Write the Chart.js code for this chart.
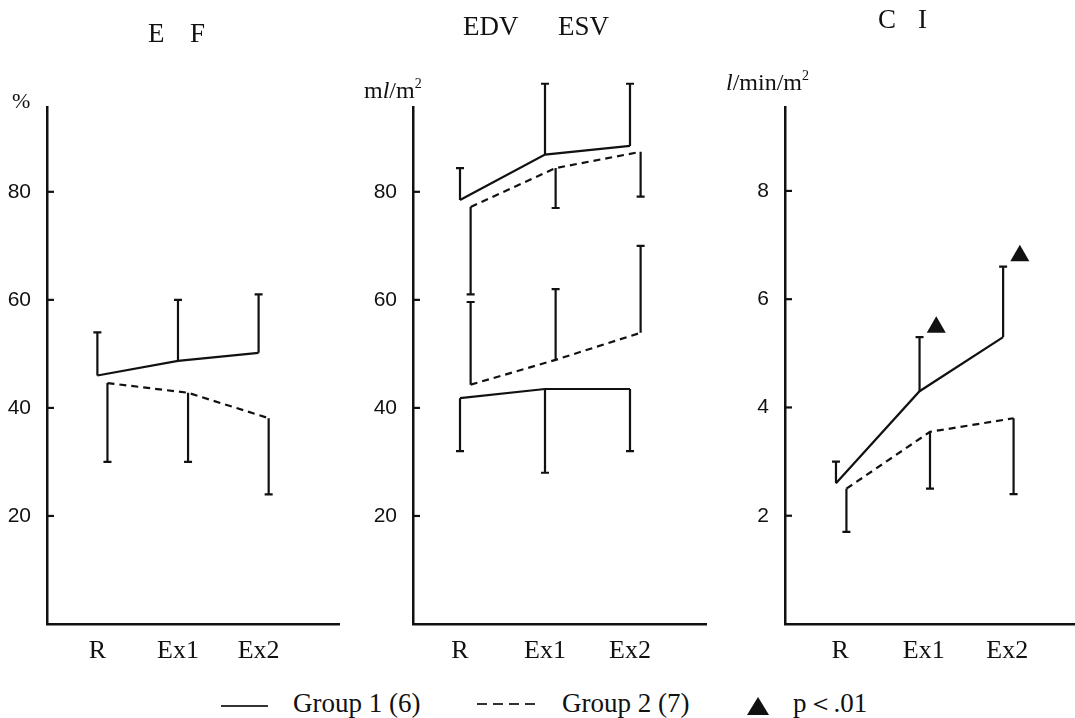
<!DOCTYPE html>
<html>
<head>
<meta charset="utf-8">
<script src="https://cdn.jsdelivr.net/npm/chart.js@4.4.1/dist/chart.umd.min.js"></script>
<style>
  html, body { margin:0; padding:0; background:#fff; overflow:hidden; }
  body { width:1075px; height:718px; position:relative; font-family:"Liberation Serif", serif; color:#111; }
  canvas { position:absolute; top:0; }
  .txt { position:absolute; white-space:pre; line-height:1; font-family:"Liberation Serif", serif; }
  .title { font-size:27px; }
  .unit { font-size:24px; }
  .leg { font-size:27px; }
  .seg { position:absolute; }
</style>
</head>
<body>
<canvas id="c1" width="340" height="680" style="left:0px;width:340px;height:680px;"></canvas>
<canvas id="c2" width="352" height="680" style="left:355px;width:352px;height:680px;"></canvas>
<canvas id="c3" width="345" height="680" style="left:730px;width:345px;height:680px;"></canvas>

<div class="txt title" style="left:148px;top:20px;">E</div>
<div class="txt title" style="left:190px;top:20px;">F</div>
<div class="txt title" style="left:463px;top:13px;">EDV</div>
<div class="txt title" style="left:558px;top:13px;">ESV</div>
<div class="txt title" style="left:878px;top:6px;">C</div>
<div class="txt title" style="left:918px;top:6px;">I</div>

<div class="txt unit" style="left:12px;top:90px;font-size:22px;">%</div>
<div class="txt unit" style="left:364px;top:78px;">m<i>l</i>/m<span style="font-size:14px;position:relative;top:-10px;">2</span></div>
<div class="txt unit" style="left:726px;top:70px;"><i>l</i>/min/m<span style="font-size:14px;position:relative;top:-10px;">2</span></div>

<div class="seg" style="left:221px;top:705px;width:47px;height:2px;background:#333;"></div>
<div class="txt leg" style="left:293px;top:690px;">Group 1 (6)</div>
<div class="seg" style="left:477px;top:703px;width:60px;height:2px;background:repeating-linear-gradient(to right,#333 0,#333 10px,transparent 10px,transparent 16px);"></div>
<div class="txt leg" style="left:562px;top:690px;">Group 2 (7)</div>
<div style="position:absolute;left:747px;top:697px;width:0;height:0;border-left:11.5px solid transparent;border-right:11.5px solid transparent;border-bottom:18px solid #111;"></div>
<div class="txt leg" style="left:793px;top:690px;">p＜.01</div>

<script>
// ---- data ----
const categories = ['R', 'Ex1', 'Ex2'];

const efTicks = [20, 40, 60, 80];
const efGroup1 = [46, 48.7, 50.2];
const efGroup1Err = [54, 60, 61];
const efGroup2 = [44.6, 42.8, 38.1];
const efGroup2Err = [30, 30, 24];

const volTicks = [20, 40, 60, 80];
const edvGroup1 = [78.5, 86.9, 88.5];
const edvGroup1Err = [84.4, 100, 100];
const edvGroup2 = [77.2, 84.4, 87.4];
const edvGroup2Err = [61, 77, 79.1];
const esvGroup1 = [41.8, 43.5, 43.5];
const esvGroup1Err = [32, 28, 32];
const esvGroup2 = [44.3, 48.9, 53.9];
const esvGroup2Err = [59.6, 62, 70];

const ciTicks = [2, 4, 6, 8];
const ciGroup1 = [2.6, 4.3, 5.3];
const ciGroup1Err = [3.0, 5.3, 6.6];
const ciGroup2 = [2.5, 3.55, 3.8];
const ciGroup2Err = [1.7, 2.5, 2.4];
const ciSignificant = [null, 5.48, 6.8];

// ---- helpers ----
const G2_SHIFT = 0.125;
function pts(values, shift) {
  return values.map((v, i) => ({ x: i + 1 + shift, y: v }));
}
function lineDs(values, errs, dashed, shift) {
  return {
    type: 'line',
    data: pts(values, shift),
    errEnd: errs,
    borderColor: '#111',
    borderWidth: 2.2,
    borderDash: dashed ? [7, 5] : [],
    pointRadius: 0,
    tension: 0,
    fill: false
  };
}

const errorBars = {
  id: 'errorBars',
  afterDatasetsDraw(chart) {
    const ctx = chart.ctx;
    const ys = chart.scales.y;
    chart.data.datasets.forEach((ds, di) => {
      if (!ds.errEnd) return;
      const meta = chart.getDatasetMeta(di);
      meta.data.forEach((el, i) => {
        const e = ds.errEnd[i];
        if (e == null) return;
        const x = el.x, y0 = el.y, y1 = ys.getPixelForValue(e);
        ctx.save();
        ctx.strokeStyle = '#111';
        ctx.lineWidth = 2.2;
        ctx.setLineDash([]);
        ctx.beginPath();
        ctx.moveTo(x, y0); ctx.lineTo(x, y1);
        ctx.moveTo(x - 4, y1); ctx.lineTo(x + 4, y1);
        ctx.stroke();
        ctx.restore();
      });
    });
  }
};

const inwardTicks = {
  id: 'inwardTicks',
  afterDraw(chart) {
    const ctx = chart.ctx;
    const ys = chart.scales.y;
    const left = chart.chartArea.left;
    ctx.save();
    ctx.strokeStyle = '#111';
    ctx.lineWidth = 2.2;
    ys.ticks.forEach(t => {
      const y = ys.getPixelForValue(t.value);
      ctx.beginPath();
      ctx.moveTo(left, y); ctx.lineTo(left + 7, y);
      ctx.stroke();
    });
    ctx.restore();
  }
};

function makeChart(id, datasets, yMax, yTicks, xMin, xMax, yAxisWidth, labelShift) {
  return new Chart(document.getElementById(id), {
    data: { datasets },
    options: {
      responsive: false,
      animation: false,
      devicePixelRatio: 1,
      layout: { autoPadding: false, padding: { top: 107, left: 0, right: 0, bottom: 0 } },
      plugins: { legend: { display: false }, tooltip: { enabled: false } },
      scales: {
        x: {
          type: 'linear',
          min: xMin, max: xMax,
          grid: { display: false },
          border: { display: true, color: '#111', width: 2.5 },
          afterBuildTicks: s => { s.ticks = categories.map((c, i) => ({ value: i + 1 + labelShift })); },
          afterFit: s => { s.height = 56; s.paddingLeft = 0; s.paddingRight = 0; },
          ticks: {
            color: '#111',
            padding: 4,
            autoSkip: false,
            maxRotation: 0,
            font: { family: 'Liberation Serif', size: 26 },
            callback: v => categories[Math.round(v - labelShift) - 1] || ''
          }
        },
        y: {
          min: 0, max: yMax,
          grid: { display: false },
          border: { display: true, color: '#111', width: 2.5 },
          afterBuildTicks: s => { s.ticks = yTicks.map(v => ({ value: v })); },
          afterFit: s => { s.width = yAxisWidth; s.paddingTop = 0; s.paddingBottom = 0; },
          ticks: {
            color: '#111',
            padding: 8,
            font: { family: 'Liberation Sans', size: 21 },
            callback: v => String(v)
          }
        }
      }
    },
    plugins: [errorBars, inwardTicks]
  });
}

makeChart('c1', [
  lineDs(efGroup1, efGroup1Err, false, 0),
  lineDs(efGroup2, efGroup2Err, true, G2_SHIFT)
], 95.7, efTicks, 0.375, 4.01, 47, 0.0);

makeChart('c2', [
  lineDs(edvGroup1, edvGroup1Err, false, 0),
  lineDs(edvGroup2, edvGroup2Err, true, G2_SHIFT),
  lineDs(esvGroup1, esvGroup1Err, false, 0),
  lineDs(esvGroup2, esvGroup2Err, true, G2_SHIFT)
], 95.7, volTicks, 0.447, 3.906, 58, 0.0);

makeChart('c3', [
  lineDs(ciGroup1, ciGroup1Err, false, 0),
  lineDs(ciGroup2, ciGroup2Err, true, G2_SHIFT),
  {
    type: 'scatter',
    data: ciSignificant.map((v, i) => v == null ? null : ({ x: i + 1.2, y: v })).filter(p => p),
    pointStyle: 'triangle',
    pointRadius: 11,
    backgroundColor: '#111',
    borderColor: '#111',
    borderWidth: 0
  }
], 9.55, ciTicks, 0.39, 3.86, 55, 0.05);
</script>
</body>
</html>
